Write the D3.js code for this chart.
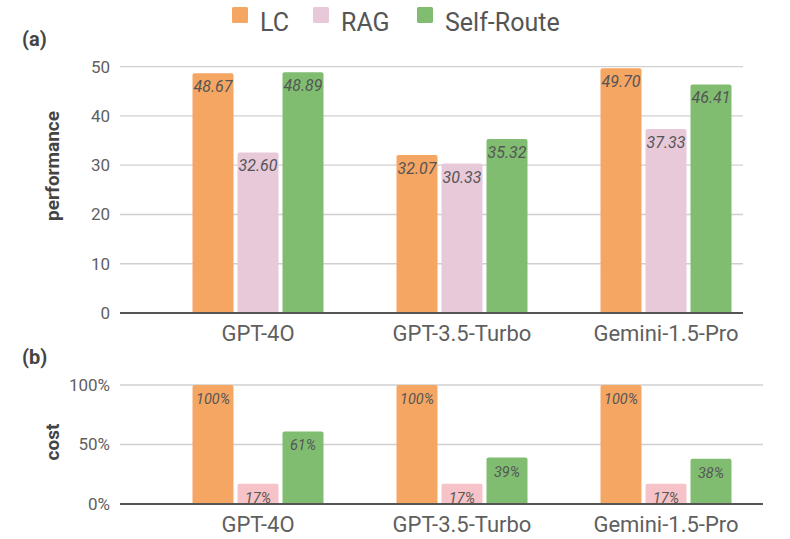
<!DOCTYPE html>
<html>
<head>
  <meta charset="UTF-8">
  <title>LC vs RAG vs Self-Route</title>
  <script src="https://d3js.org/d3.v7.min.js"></script>
  <style>
    html, body { margin: 0; padding: 0; background: #fff; overflow: hidden; }
    svg { display: block; font-family: Roboto, "Noto Sans", sans-serif; }
  </style>
</head>
<body>
  <svg width="790" height="539"></svg>
  <script>
    const models = ["GPT-4O", "GPT-3.5-Turbo", "Gemini-1.5-Pro"];
    const methods = ["LC", "RAG", "Self-Route"];
    const performance = {
      "LC": [48.67, 32.07, 49.70],
      "RAG": [32.60, 30.33, 37.33],
      "Self-Route": [48.89, 35.32, 46.41]
    };
    const cost = {
      "LC": [100, 100, 100],
      "RAG": [17, 17, 17],
      "Self-Route": [61, 39, 38]
    };
    const perfTicks = [0, 10, 20, 30, 40, 50];
    const costTicks = [0, 50, 100];

    const colorA = { "LC": "#f6a663", "RAG": "#e8c9da", "Self-Route": "#80bd71" };
    const colorB = { "LC": "#f6a663", "RAG": "#f5c3c8", "Self-Route": "#80bd71" };

    const svg = d3.select("svg");

    // legend
    const legendX = [232, 313, 417];
    const legend = svg.append("g");
    methods.forEach((m, i) => {
      const g = legend.append("g").attr("transform", `translate(${legendX[i]},7)`);
      g.append("rect").attr("width", 16).attr("height", 16).attr("rx", 1.5).attr("fill", colorA[m]);
      g.append("text").attr("x", 28).attr("y", 17).attr("dominant-baseline", "middle")
        .attr("font-size", 25).attr("fill", "#555").text(m);
    });

    const x0 = d3.scaleBand().domain(models).range([156, 768]);
    const x1 = d3.scaleBand().domain(methods).range([36.5, 167.5]).paddingInner(0.089);

    function panel(opts) {
      const { data, ticks, y, colors, fmt, tickFmt, label, tag, tagY, labelY, gridRight, xLabelY, valueSize } = opts;
      const g = svg.append("g");

      g.append("text").attr("x", 22).attr("y", tagY).attr("font-size", 20).attr("font-weight", "bold")
        .attr("fill", "#444").text(tag);

      g.append("text").attr("transform", `translate(59,${labelY}) rotate(-90)`)
        .attr("text-anchor", "middle").attr("font-size", 19).attr("font-weight", "bold")
        .attr("fill", "#444").text(label);

      // grid
      g.selectAll(".grid").data(ticks.filter(t => t !== 0)).enter().append("line")
        .attr("x1", 120).attr("x2", gridRight)
        .attr("y1", d => y(d)).attr("y2", d => y(d))
        .attr("stroke", "#d0d0d0").attr("stroke-width", 1.3);

      g.selectAll(".tick").data(ticks).enter().append("text")
        .attr("x", 110).attr("y", d => y(d)).attr("dy", "0.35em")
        .attr("text-anchor", "end").attr("font-size", 17).attr("fill", "#5f5f5f")
        .text(tickFmt);

      const groups = g.selectAll(".grp").data(models).enter().append("g")
        .attr("transform", d => `translate(${x0(d)},0)`);

      groups.each(function (model, mi) {
        const grp = d3.select(this);
        methods.forEach(m => {
          const v = data[m][mi];
          grp.append("rect")
            .attr("x", x1(m)).attr("width", x1.bandwidth())
            .attr("y", y(v)).attr("height", y(0) - y(v) + 1)
            .attr("rx", 2).attr("fill", colors[m]);
          grp.append("text")
            .attr("x", x1(m) + x1.bandwidth() / 2)
            .attr("y", y(v) + 19)
            .attr("text-anchor", "middle").attr("font-size", valueSize)
            .attr("font-style", "italic").attr("fill", "#555")
            .text(fmt(v));
        });
        grp.append("text").attr("x", x0.bandwidth() / 2).attr("y", xLabelY)
          .attr("text-anchor", "middle").attr("font-size", 22).attr("fill", "#5f5f5f")
          .text(model);
      });

      // baseline
      g.append("line").attr("x1", 120).attr("x2", gridRight)
        .attr("y1", y(0)).attr("y2", y(0))
        .attr("stroke", "#555").attr("stroke-width", 2);
    }

    panel({
      data: performance, ticks: perfTicks,
      y: d3.scaleLinear().domain([0, 50]).range([313, 66.7]),
      colors: colorA, fmt: v => v.toFixed(2), tickFmt: d => d,
      label: "performance", tag: "(a)", tagY: 46, labelY: 166,
      gridRight: 743, xLabelY: 341, valueSize: 16
    });

    panel({
      data: cost, ticks: costTicks,
      y: d3.scaleLinear().domain([0, 100]).range([504, 385]),
      colors: colorB, fmt: v => v + "%", tickFmt: d => d + "%",
      label: "cost", tag: "(b)", tagY: 364, labelY: 442,
      gridRight: 763, xLabelY: 532, valueSize: 14.5
    });
  </script>
</body>
</html>
